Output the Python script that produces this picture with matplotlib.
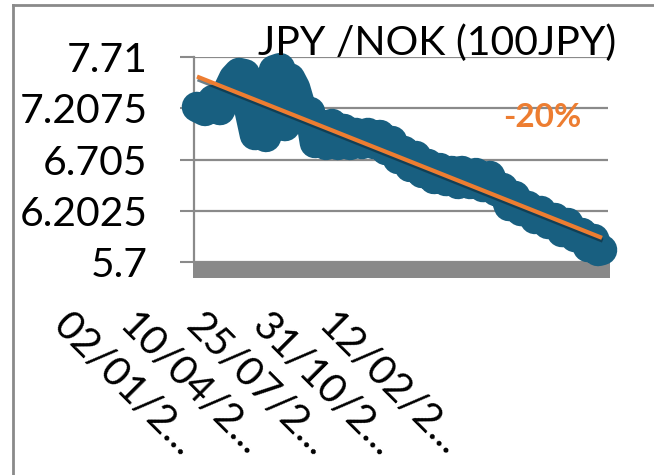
import matplotlib
matplotlib.use("Agg")
import matplotlib.pyplot as plt
import numpy as np
from matplotlib.patches import Rectangle
from matplotlib.lines import Line2D
from matplotlib.transforms import ScaledTranslation
import matplotlib.patheffects as pe

plt.rcParams['font.family'] = ['Lato', 'DejaVu Sans']

# ---- data ----
obs = [0, 8, 16, 23, 31, 37, 42, 48, 53, 58, 63, 69, 73, 77, 83, 88, 93, 98,
       103, 108, 113, 118, 123, 129, 135, 141, 147, 153, 159, 165, 171, 177, 183, 189,
       195, 201, 207, 213, 219, 225, 231, 237, 243, 249, 255, 261, 265, 273, 279, 286,
       293, 299, 306, 312, 318, 324, 331, 338, 344, 351, 358, 365, 371, 378, 385, 391,
       397, 401, 405]
rate = [7.220, 7.181, 7.288, 7.190, 7.377, 7.500, 7.553, 7.540,
        7.171, 6.945, 7.112, 6.926, 7.350, 7.580, 7.600, 7.033, 7.500, 7.406,
        7.239, 7.092, 7.171, 6.867, 7.043, 6.848, 7.053, 6.848, 7.004, 6.848,
        6.965, 6.857, 6.965, 6.857, 6.945, 6.798, 6.886, 6.710, 6.788, 6.632,
        6.739, 6.573, 6.661, 6.514, 6.621, 6.494, 6.592, 6.465, 6.592, 6.465,
        6.572, 6.435, 6.543, 6.396, 6.425, 6.249, 6.347, 6.200, 6.249, 6.122,
        6.200, 6.073, 6.131, 5.994, 6.082, 5.945, 5.984, 5.847, 5.925, 5.808,
        5.818]
tick_obs = [0, 66, 133, 199, 265]
tick_labels = ['02/01/2...', '10/04/2...', '25/07/2...', '31/10/2...', '12/02/2...']
y_ticks = [5.7, 6.2025, 6.705, 7.2075, 7.71]
y_tick_labels = ['5.7', '6.2025', '6.705', '7.2075', '7.71']
title = 'JPY /NOK (100JPY)'
change_label = '-20%'

W, H = 654, 475
fig = plt.figure(figsize=(W / 100, H / 100), dpi=100)
fig.patch.set_facecolor('white')

ax_l, ax_r, ax_t, ax_b = 194, 608, 57, 262
ax = fig.add_axes([ax_l / W, 1 - ax_b / H, (ax_r - ax_l) / W, (ax_b - ax_t) / H])
ax.set_facecolor('none')

grey = '#8a8a8a'
ax.set_ylim(5.7, 7.71)
ax.set_xlim(-3, 411)
ax.set_yticks(y_ticks)
ax.set_yticklabels(y_tick_labels, fontsize=29.4)
ax.yaxis.grid(True, color=grey, lw=1.6)
ax.set_axisbelow(True)
ax.tick_params(axis='y', length=10, width=1.5, color=grey, pad=23.5)
for s in ['top', 'right', 'bottom']:
    ax.spines[s].set_visible(False)
ax.spines['left'].set_color(grey)
ax.spines['left'].set_linewidth(1.6)

# floor
ax.add_patch(Rectangle((-0.002, -16 / 205), 1.006, 16 / 205, transform=ax.transAxes,
                       facecolor='#898989', edgecolor='none', clip_on=False, zorder=1))

# series
ax.plot(obs, rate, color='#185f80', lw=22, solid_capstyle='round',
        solid_joinstyle='round', clip_on=False, zorder=3)

# trend
coef = np.polyfit(obs, rate, 1)
tx = np.array([min(obs), max(obs)])
ax.plot(tx, np.polyval(coef, tx), color='#ed7d31', lw=3, clip_on=False, zorder=4,
        solid_capstyle='butt',
        path_effects=[pe.SimpleLineShadow(offset=(0.5, -2), shadow_color='#0b2a3a', alpha=0.6),
                      pe.Normal()])

# x tick labels
ax.set_xticks(tick_obs)
ax.set_xticklabels(tick_labels, fontsize=29.4, rotation=-45, rotation_mode='anchor',
                   ha='left', va='top')
ax.tick_params(axis='x', length=0, pad=0)
off = ScaledTranslation(-125 / 100, -44 / 100, fig.dpi_scale_trans)
for lab in ax.get_xticklabels():
    lab.set_transform(lab.get_transform() + off)

# title and annotation
fig.text(258 / W, 1 - 55 / H, title, fontsize=29.4, ha='left', va='baseline')
fig.text(503 / W, 1 - 127 / H, change_label, fontsize=24, fontweight='bold',
         color='#ed7d31', ha='left', va='baseline')

# chart border (left & top)
fig.add_artist(Line2D([12.5 / W, 12.5 / W], [0, 1 - 5 / H], color=grey, lw=2,
                      transform=fig.transFigure))
fig.add_artist(Line2D([12.5 / W, 1], [1 - 5 / H, 1 - 5 / H], color=grey, lw=2,
                      transform=fig.transFigure))

fig.savefig('out.png', dpi=100)
